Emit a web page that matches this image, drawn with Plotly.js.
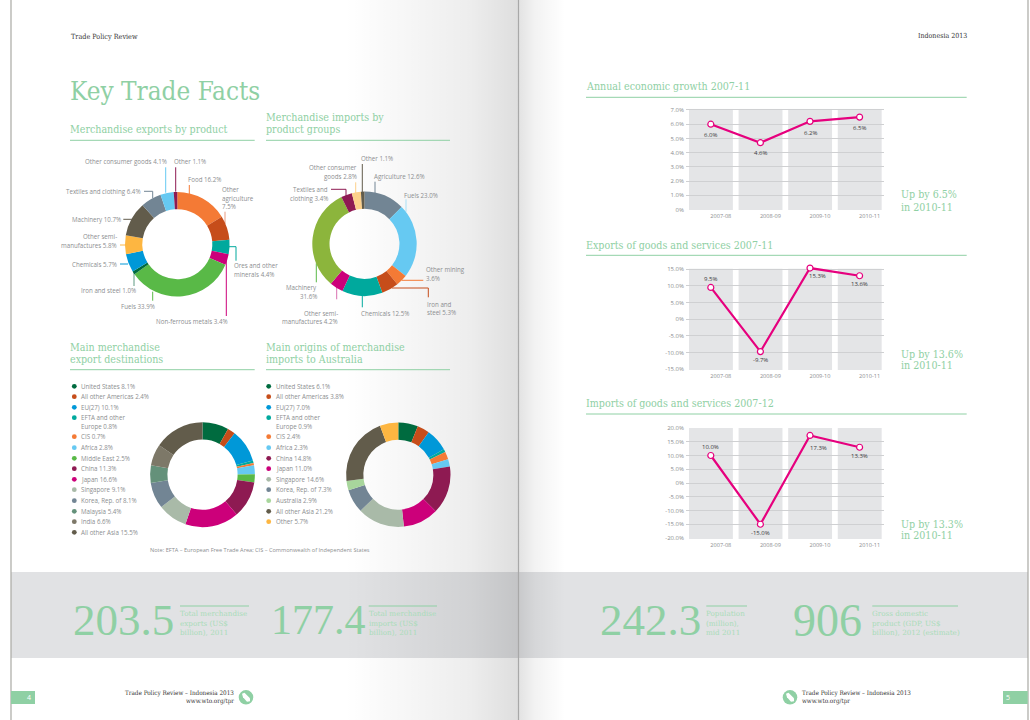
<!DOCTYPE html>
<html><head><meta charset="utf-8">
<script src="https://cdn.plot.ly/plotly-3.0.1.min.js"></script>
<style>
html,body{margin:0;padding:0;width:1030px;height:720px;overflow:hidden;background:#fff}
#page{position:absolute;left:0;top:0;width:1030px;height:720px;background-repeat:no-repeat;
background-image:
 linear-gradient(to right,rgba(0,0,0,0) 345px,rgba(0,0,0,.07) 470px,rgba(0,0,0,.13) 518px,rgba(0,0,0,.11) 519px,rgba(0,0,0,.05) 535px,rgba(0,0,0,0) 565px),
 linear-gradient(#e1e2e4,#e1e2e4);
background-size:1030px 720px,1017px 86px;
background-position:0 0,11px 572px;}
</style></head><body><div id="page"></div>
<script>
const W=1030,H=720;
const GREEN='#8fd0a4',PALE='#a9dcb9',GREY='#8c8e90',DARK='#3a3a3c',PINK='#e6007e';
const SANS='"Open Sans", sans-serif',SLAB='"DejaVu Serif Condensed","DejaVu Serif",serif',SLABW='"DejaVu Serif",serif',NUM='"Liberation Serif",serif';
const X=p=>p/W,Y=p=>1-p/H;

// ---------- data ----------
const expProdLabels=['Food','Other agriculture','Ores and other minerals','Non-ferrous metals','Fuels','Iron and steel','Chemicals','Other semi-manufactures','Machinery','Textiles and clothing','Other consumer goods','Other'];
const expProdValues=[16.2,7.5,4.4,3.4,33.9,1.0,5.7,5.8,10.7,6.4,4.1,1.1];
const expProdColors=['#f47a35','#c64d1a','#00a99d','#cc007a','#59b947','#006b3f','#0098d8','#fdb641','#625c4b','#728594','#66c9f2','#8e1a52'];

const impProdLabels=['Agriculture','Fuels','Other mining','Iron and steel','Chemicals','Other semi-manufactures','Machinery','Textiles and clothing','Other consumer goods','Other'];
const impProdValues=[12.6,23.0,3.6,5.3,12.5,4.2,31.6,3.4,2.8,1.1];
const impProdColors=['#728594','#66c9f2','#f47a35','#c64d1a','#00a99d','#cc007a','#8cb53c','#8e1a52','#fdd08a','#625c4b'];

const expDestLabels=['United States','All other Americas','EU(27)','EFTA and other|Europe','CIS','Africa','Middle East','China','Japan','Singapore','Korea, Rep. of','Malaysia','India','All other Asia'];
const expDestValues=[8.1,2.4,10.1,0.8,0.7,2.8,2.5,11.3,16.6,9.1,8.1,5.4,6.6,15.5];
const expDestColors=['#006b3f','#c64d1a','#0098d8','#00a99d','#f47a35','#66c9f2','#59b947','#8e1a52','#cc007a','#a9baa8','#728594','#64917a','#7d7868','#625c4b'];

const impOrigLabels=['United States','All other Americas','EU(27)','EFTA and other|Europe','CIS','Africa','China','Japan','Singapore','Korea, Rep. of','Australia','All other Asia','Other'];
const impOrigValues=[6.1,3.8,7.0,0.9,2.4,2.3,14.8,11.0,14.6,7.3,2.9,21.2,5.7];
const impOrigColors=['#006b3f','#c64d1a','#0098d8','#00a99d','#f47a35','#66c9f2','#8e1a52','#cc007a','#a9baa8','#728594','#a8d69c','#625c4b','#fdb641'];

const years=['2007-08','2008-09','2009-10','2010-11'];
const growthPlot=[6.0,4.7,6.2,6.5],growthLabel=['6.0%','4.6%','6.2%','6.5%'];
const exportsPlot=[9.5,-9.7,15.3,13.0],exportsLabel=['9.5%','-9.7%','15.3%','13.6%'];
const importsPlot=[10.0,-15.0,17.3,13.0],importsLabel=['10.0%','-15.0%','17.3%','13.3%'];
const growthTicks=[0,1,2,3,4,5,6,7],growthTickText=['0%','1.0%','2.0%','3.0%','4.0%','5.0%','6.0%','7.0%'];
const exportsTicks=[-15,-10,-5,0,5,10,15],exportsTickText=['-15.0%','-10.0%','-5.0%','0%','5.0%','10.0%','15.0%'];
const importsTicks=[-20,-15,-10,-5,0,5,10,15,20],importsTickText=['-20.0%','-15.0%','-10.0%','-5.0%','0%','5.0%','10.0%','15.0%','20.0%'];

// ---------- helpers ----------
const annotations=[],shapes=[];
function T(x,y,text,o={}){
  const lines=Array.isArray(y)?y:[y],txt=Array.isArray(text)?text:[text];
  lines.forEach((yy,i)=>annotations.push({xref:'paper',yref:'paper',x:X(x),y:Y(yy),text:txt[i],showarrow:false,
    xanchor:o.anchor||'left',yanchor:'middle',borderpad:0,borderwidth:0,
    font:{family:o.family||SANS,size:o.size||6.2,color:o.color||GREY}}));
}
function rect(x0,y0,x1,y1,c,layer='below'){shapes.push({type:'rect',xref:'paper',yref:'paper',x0:X(x0),x1:X(x1),y0:Y(y0),y1:Y(y1),fillcolor:c,line:{width:0},layer});}
function seg(x0,y0,x1,y1,c,w=1){shapes.push({type:'line',xref:'paper',yref:'paper',x0:X(x0),x1:X(x1),y0:Y(y0),y1:Y(y1),line:{color:c,width:w},layer:'below'});}
function circle(cx,cy,r,c){shapes.push({type:'circle',xref:'paper',yref:'paper',x0:X(cx-r),x1:X(cx+r),y0:Y(cy-r),y1:Y(cy+r),fillcolor:c,line:{width:0},layer:'below'});}
function donut(vals,cols,names,cx,cy,r){return {type:'pie',values:vals,labels:names,marker:{colors:cols,line:{width:0}},hole:.67,sort:false,direction:'clockwise',rotation:0,textinfo:'none',hoverinfo:'skip',showlegend:false,
  domain:{x:[X(cx-r),X(cx+r)],y:[Y(cy+r),Y(cy-r)]}};}
function head(x,ys,lines,ruleY,x1){T(x,ys,lines,{family:SLAB,size:10.6,color:GREEN});seg(x,ruleY,x1,ruleY,GREEN,1);}

// ---------- page furniture ----------
seg(11,0,11,720,'#a9a9a3',1.2);seg(1028,0,1028,720,'#a9a9a3',1.2);seg(518.5,0,518.5,720,'#a8a8a8',1.2);
T(71,36,'Trade Policy Review',{family:SLAB,size:7.2,color:'#333'});
T(967,36,'Indonesia 2013',{family:SLAB,size:7,color:'#333',anchor:'right'});
T(70,91,'Key Trade Facts',{family:SLAB,size:25.9,color:GREEN});

head(70,129.3,'Merchandise exports by product',140.3,254.7);
head(266,[117.3,129.3],['Merchandise imports by','product groups'],140.3,450);
head(70,[347.3,359.3],['Main merchandise','export destinations'],369.7,254.7);
head(266,[347.3,359.3],['Main origins of merchandise','imports to Australia'],369.7,450);

// ---------- donut 1 callouts ----------
const c1=expProdColors;
seg(165.7,167.3,165.7,192.7,c1[10]);seg(175.7,167.3,175.7,191.7,c1[11]);seg(189.3,185,189.3,194,c1[0]);
seg(225,211.7,225,224,'#e89b80');seg(144,191.3,152.7,191.3,c1[9]);seg(152.7,191.3,152.7,198.3,c1[9]);
seg(123.3,219.3,131.7,219.3,c1[8]);seg(120,245,125,245,c1[7]);seg(120,264,128,264,c1[6]);
seg(134,270,134,286,'#5f9a82');seg(152.7,291.7,152.7,300.7,c1[4]);
seg(228.3,246.7,236,246.7,c1[2]);seg(236,246.7,236,260.7,c1[2]);seg(226.3,260,226.3,316,c1[3]);
T(166.7,161.7,'Other consumer goods 4.1%',{anchor:'right'});
T(174,161.7,'Other 1.1%');
T(187.7,179.7,'Food 16.2%');
T(222.3,[189.3,198.3,206.7],['Other','agriculture','7.5%']);
T(141.3,191.7,'Textiles and clothing 6.4%',{anchor:'right'});
T(121,219.7,'Machinery 10.7%',{anchor:'right'});
T(116.7,[236.3,245.7],['Other semi-','manufactures 5.8%'],{anchor:'right'});
T(117.3,264.3,'Chemicals 5.7%',{anchor:'right'});
T(136,290.7,'Iron and steel 1.0%',{anchor:'right'});
T(155,306.3,'Fuels 33.9%',{anchor:'right'});
T(228.3,321.3,'Non-ferrous metals 3.4%',{anchor:'right'});
T(233.7,[265.7,274.3],['Ores and other','minerals 4.4%']);

// ---------- donut 2 callouts ----------
const c2=impProdColors;
seg(362.3,164,362.3,201.7,c2[9]);seg(355.7,182.3,355.7,201.7,c2[8]);
seg(331,189.3,346,189.3,c2[7]);seg(346,189.3,346,198.3,c2[7]);
seg(375,181.7,375,193.3,c2[0]);seg(406,199.3,406,211.7,'#a9e0f6');
seg(401.7,280.3,423.3,280.3,c2[2]);seg(391.7,288,428.3,288,c2[3]);seg(428.3,288,428.3,297.3,c2[3]);
seg(362.3,295,362.3,307.3,c2[4]);seg(336.7,285,336.7,299.3,'#d970b0');seg(316.3,263.3,316.3,282.3,'#59b947');
T(361.3,158.7,'Other 1.1%');
T(356.7,[167.7,176.3],['Other consumer','goods 2.8%'],{anchor:'right'});
T(373.7,176.3,'Agriculture 12.6%');
T(328,[189.7,198.7],['Textiles and','clothing 3.4%'],{anchor:'right'});
T(404,195.3,'Fuels 23.0%');
T(426.3,[269.7,278.3],['Other mining','3.6%']);
T(426.7,[304.3,312.7],['Iron and','steel 5.3%']);
T(361.3,313.3,'Chemicals 12.5%');
T(338.3,[313.3,321.7],['Other semi-','manufactures 4.2%'],{anchor:'right'});
T(317.3,[287.7,296.7],['Machinery','31.6%'],{anchor:'right'});

// ---------- legends ----------
const rowY=[386.3,396.7,407.3,417.7,426.7,436.7,447.7,458.3,468.7,479.3,489.7,500.7,511.3,521.7,532.3];
function legend(names,vals,cols,dotX,textX){
  let r=0;
  names.forEach((n,i)=>{
    circle(dotX,rowY[r],2.4,cols[i]);
    const p=n.split('|');
    if(p.length>1){T(textX,rowY[r],p[0]);r++;T(textX,rowY[r],p[1]+' '+vals[i].toFixed(1)+'%');}
    else T(textX,rowY[r],n+' '+vals[i].toFixed(1)+'%');
    r++;
  });
}
legend(expDestLabels,expDestValues,expDestColors,74.3,81.3);
legend(impOrigLabels,impOrigValues,impOrigColors,268.7,275.7);
T(150,550,'Note: EFTA – European Free Trade Area; CIS – Commonwealth of Independent States',{size:5.6});

// ---------- line charts ----------
// colRange = extent of the grey columns; range = axis range (may be taller so every point stays on scale)
function lineChart(n,vals,labels,ticks,tickText,range,colRange,top,bot,shifts,titleY,ruleY,title,up,upY){
  const xa=n===1?'x':'x'+n,ya=n===1?'y':'y'+n;
  const trace={type:'scatter',mode:'lines+markers',x:years,y:vals,xaxis:xa,yaxis:ya,cliponaxis:false,hoverinfo:'skip',showlegend:false,
    line:{color:PINK,width:2.2},marker:{symbol:'circle',size:6,color:'#fff',line:{color:PINK,width:1.2}}};
  const suffix=n===1?'':n;
  const L={};
  L['xaxis'+suffix]={type:'category',domain:[X(686),X(884.4)],range:[-.5,3.5],anchor:ya,fixedrange:true,showgrid:false,zeroline:false,showline:false,ticks:'',
    tickfont:{family:SANS,size:5.6,color:GREY},ticklabelshift:10,ticklabelstandoff:1,automargin:false};
  L['yaxis'+suffix]={domain:[Y(bot),Y(top)],range,anchor:xa,fixedrange:true,showgrid:true,gridcolor:'#cfd0d2',gridwidth:1,zeroline:false,showline:false,ticks:'',
    tickmode:'array',tickvals:ticks,ticktext:tickText,tickfont:{family:SANS,size:6,color:GREY},ticklabelstandoff:1,automargin:false};
  years.forEach((_,i)=>{
    shapes.push({type:'rect',xref:xa,yref:ya,x0:i-.44,x1:i+.445,y0:colRange[0],y1:colRange[1],fillcolor:'#e4e5e7',line:{width:0},layer:'below'});
    annotations.push({xref:xa,yref:ya,x:i,y:vals[i],text:labels[i],showarrow:false,xanchor:'center',yanchor:'middle',xshift:shifts[i][0],yshift:shifts[i][1],borderpad:0,
      font:{family:SANS,size:6,color:DARK}});
  });
  T(586,titleY,title,{family:SLAB,size:10.6,color:GREEN});
  seg(586,ruleY,966.7,ruleY,GREEN,1);
  T(901.3,upY,[up,'in 2010-11'],{family:SLAB,size:10.6,color:GREEN});
  return {trace,L};
}
const ch=[
 lineChart(1,growthPlot,growthLabel,growthTicks,growthTickText,[-.03,7.09],[-.03,7.09],108.7,210,[[0,-11],[0,-10],[0,-11.3],[0,-10.7]],86,97.3,'Annual economic growth 2007-11','Up by 6.5%',[194.3,206.7]),
 lineChart(2,exportsPlot,exportsLabel,exportsTicks,exportsTickText,[-15.2,16.3],[-15.2,15.1],264.7,370,[[0,8],[0,-8],[7.7,-8.3],[0,-8]],244.7,255.3,'Exports of goods and services 2007-11','Up by 13.6%',[354,365.3]),
 lineChart(3,importsPlot,importsLabel,importsTicks,importsTickText,[-20.36,20],[-20.36,20],428,539,[[0,9],[0,-8.3],[8,-13],[0,-8.7]],403,414,'Imports of goods and services 2007-12','Up by 13.3%',[523.7,535.3])
];

// ---------- headline numbers ----------
function stat(numX,num,size,capX,capLines,ruleEnd){
  T(numX,620,num,{family:NUM,size:size,color:GREEN});
  seg(capX,606,ruleEnd,606,GREEN,1);
  T(capX,[613.3,623.3,632.3],capLines,{family:SLABW,size:7.2,color:PALE});
}
stat(73,'203.5',45,180,['Total merchandise','exports (US$','billion), 2011'],249);
stat(271,'177.4',42,368.7,['Total merchandise','imports (US$','billion), 2011'],437);
stat(600,'242.3',45,706.3,['Population','(million),','mid 2011'],747);
stat(793,'906',46,872.3,['Gross domestic','product (GDP, US$','billion), 2012 (estimate)'],958);

// ---------- footer ----------
rect(11,691,35,704,GREEN);rect(1003,691,1027.7,704,GREEN);
T(29,697.5,'4',{size:7,color:'#fff',anchor:'center'});T(1007.7,697.5,'5',{size:7,color:'#fff',anchor:'center'});
T(234,692.7,'Trade Policy Review – Indonesia 2013',{family:SLAB,size:6.3,color:'#333',anchor:'right'});
T(234,701,'www.wto.org/tpr',{family:SLAB,size:6.3,color:'#333',anchor:'right'});
T(802.3,692.7,'Trade Policy Review – Indonesia 2013',{family:SLAB,size:6.3,color:'#333'});
T(802.3,701,'www.wto.org/tpr',{family:SLAB,size:6.3,color:'#333'});
[246,790].forEach(cx=>{
  circle(cx,697.3,7.3,GREEN);
  const pts=[[-4,-3.5],[-1.5,-4.5],[4,1],[4,4],[1,4.5],[-3,0]];
  shapes.push({type:'path',xref:'paper',yref:'paper',layer:'below',fillcolor:'#fff',line:{width:0},
    path:'M'+pts.map(p=>X(cx+p[0])+','+Y(697.3+p[1])).join('L')+'Z'});
});

const traces=[
 donut(expProdValues,expProdColors,expProdLabels,177.3,244.2,52.3),
 donut(impProdValues,impProdColors,impProdLabels,364.5,243.8,52.2),
 donut(expDestValues,expDestColors,expDestLabels,202.5,474.7,52.4),
 donut(impOrigValues,impOrigColors,impOrigLabels,398.3,474.7,52.2),
 ...ch.map(c=>c.trace)
];
const layout=Object.assign({width:W,height:H,margin:{l:0,r:0,t:0,b:0,pad:0},paper_bgcolor:'rgba(0,0,0,0)',plot_bgcolor:'rgba(0,0,0,0)',showlegend:false,annotations,shapes},...ch.map(c=>c.L));
Plotly.newPlot('page',traces,layout,{displayModeBar:false,staticPlot:true});
</script></body></html>
